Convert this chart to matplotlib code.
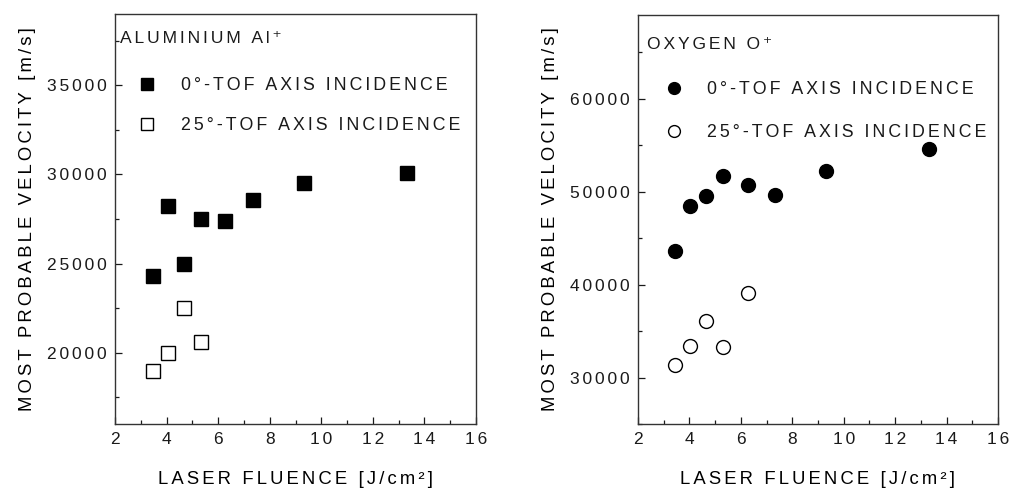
import matplotlib
matplotlib.use("Agg")
import matplotlib.pyplot as plt
from matplotlib.ticker import MultipleLocator, FuncFormatter

# ─────────────────────────────────────────────
# DATA
# ─────────────────────────────────────────────
al_x_0deg  = [3.47, 4.07, 4.68, 5.34, 6.28, 7.35, 9.32, 13.32]
al_v_0deg  = [24300, 28250, 25000, 27500, 27400, 28550, 29500, 30100]
al_x_25deg = [3.47, 4.06, 4.68, 5.34]
al_v_25deg = [19000, 20000, 22500, 20600]

o_x_0deg  = [3.45, 4.01, 4.64, 5.29, 6.28, 7.34, 9.32, 13.33]
o_v_0deg  = [43600, 48400, 49500, 51700, 50700, 49600, 52200, 54600]
o_x_25deg = [3.45, 4.01, 4.64, 5.29, 6.28]
o_v_25deg = [31400, 33400, 36100, 33300, 39100]

LABEL_0  = "0°-TOF AXIS INCIDENCE"
LABEL_25 = "25°-TOF AXIS INCIDENCE"
XLABEL   = "LASER FLUENCE [J/cm²]"
YLABEL   = "MOST PROBABLE VELOCITY [m/s]"
TITLE_AL = "ALUMINIUM Al⁺"
TITLE_O  = "OXYGEN O⁺"

INK = "#1a1a1a"
plt.rcParams["font.family"] = ["Liberation Sans", "DejaVu Sans"]
plt.rcParams["text.color"] = INK


def spaced(s):
    # wide letter spacing like the original figure (six-per-em space)
    return "\u2006".join(s)


def style_axes(ax, ylim, ymajor, yminor):
    ax.set_xlim(2, 16)
    ax.set_ylim(*ylim)
    ax.xaxis.set_major_locator(MultipleLocator(2))
    ax.xaxis.set_minor_locator(MultipleLocator(1))
    ax.yaxis.set_major_locator(MultipleLocator(ymajor))
    ax.yaxis.set_minor_locator(MultipleLocator(yminor))
    ax.xaxis.set_major_formatter(FuncFormatter(lambda v, p: spaced(f"{v:.0f}")))
    ax.yaxis.set_major_formatter(FuncFormatter(lambda v, p: spaced(f"{v:.0f}")))
    ax.tick_params(which="both", direction="in", top=False, right=False,
                   colors=INK, labelsize=12.5, width=0.9)
    ax.tick_params(which="major", length=5, pad=6)
    ax.tick_params(which="minor", length=3)
    for s in ax.spines.values():
        s.set_linewidth(1.0)
        s.set_color("#333333")
    ax.set_xlabel(spaced(XLABEL), fontsize=13.3, labelpad=17)
    ax.set_ylabel(spaced(YLABEL), fontsize=13.3, labelpad=8)


fig = plt.figure(figsize=(10.1, 4.9), dpi=100)
ax1 = fig.add_axes([0.1139, 0.1347, 0.3574, 0.8367])
ax2 = fig.add_axes([0.6317, 0.1347, 0.3564, 0.8347])

# ─── ALUMINIUM ───
ax1.plot(al_x_0deg, al_v_0deg, "s", color="black", markersize=9.5,
         label=spaced(LABEL_0))
ax1.plot(al_x_25deg, al_v_25deg, "s", mfc="white", mec="black", mew=1.0,
         markersize=9.5, label=spaced(LABEL_25))
style_axes(ax1, (16000, 39000), 5000, 2500)
ax1.text(0.015, 0.93, spaced(TITLE_AL), transform=ax1.transAxes, fontsize=12.6)
ax1.legend(loc="upper left", bbox_to_anchor=(0.02, 0.885), frameon=False,
           fontsize=12.8, markerscale=0.95, handlelength=1.0, handletextpad=1.4,
           labelspacing=1.3)

# ─── OXYGEN ───
ax2.plot(o_x_0deg, o_v_0deg, "o", color="black", markersize=10,
         label=spaced(LABEL_0))
ax2.plot(o_x_25deg, o_v_25deg, "o", mfc="white", mec="black", mew=1.0,
         markersize=10, label=spaced(LABEL_25))
style_axes(ax2, (25000, 69000), 10000, 5000)
ax2.text(0.025, 0.918, spaced(TITLE_O), transform=ax2.transAxes, fontsize=12.6)
ax2.legend(loc="upper left", bbox_to_anchor=(0.03, 0.877), frameon=False,
           fontsize=12.8, markerscale=0.85, handlelength=1.0, handletextpad=1.4,
           labelspacing=1.45)

fig.savefig("out.png", dpi=100)
